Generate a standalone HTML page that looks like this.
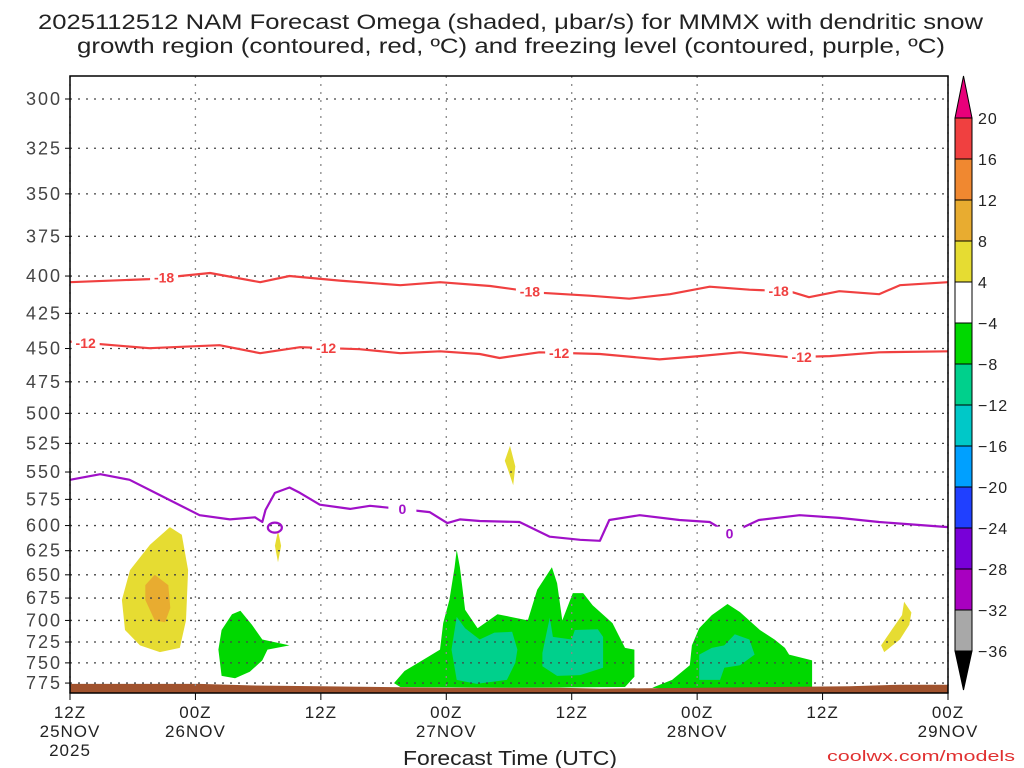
<!DOCTYPE html>
<html><head><meta charset="utf-8"><style>
body{margin:0;background:#fff;}
svg{display:block;font-family:"Liberation Sans",sans-serif;}
</style></head><body>
<svg id="chart" width="1024" height="768" xmlns="http://www.w3.org/2000/svg">
<text x="38" y="29" font-size="21" textLength="945" lengthAdjust="spacingAndGlyphs" fill="#222">2025112512 NAM Forecast Omega (shaded, μbar/s) for MMMX with dendritic snow</text>
<text x="77" y="53" font-size="21" textLength="868" lengthAdjust="spacingAndGlyphs" fill="#222">growth region (contoured, red, ºC) and freezing level (contoured, purple, ºC)</text>
<g id="plot"></g>
<text x="403" y="765" font-size="20" textLength="214" lengthAdjust="spacingAndGlyphs" fill="#222">Forecast Time (UTC)</text>
<text x="827" y="761" font-size="15" textLength="188" lengthAdjust="spacingAndGlyphs" fill="#e03030">coolwx.com/models</text>
<g id="cbar"></g>
</svg>
<script>
const yTicks=[300,325,350,375,400,425,450,475,500,525,550,575,600,625,650,675,700,725,750,775];
const xTickHours=[0,12,24,36,48,60,72,84];
const xTickTime=["12Z","00Z","12Z","00Z","12Z","00Z","12Z","00Z"];
const xTickDate=["25NOV","26NOV","","27NOV","","28NOV","","29NOV"];
const cbLabels=["20","16","12","8","4","-4","-8","-12","-16","-20","-24","-28","-32","-36"];
const cbColors=["#f04040","#f08830","#e8ac30","#e6dc32","#ffffff","#00d800","#00d08c","#00c8c8","#00a0ff","#2040ff","#7800d8","#a800c0","#a8a8a8"];
const line18H=[0,7.6,13.4,18.2,21.0,25.8,31.6,35.4,40.2,44.9,49.7,53.5,57.4,61.2,65.0,68.8,70.7,73.6,77.4,79.4,84];
const line18P=[404,402,398,404,400,403,406,404,406.5,411,413,415,412,407,409,410,414,410,412,406,404];
const line12H=[0,7.6,14.3,18.2,22.0,27.7,31.6,35.4,39.2,41.1,44.9,50.7,56.4,60.2,64.1,68.8,72.7,77.4,84];
const line12P=[445,449.8,447.6,453.4,449,450.5,453.4,452,454,457,452.8,454,458,455.6,452.8,456.4,455.6,452.8,452];
const line0H=[0,2.9,5.7,8.6,12.4,15.3,17.7,18.4,18.7,19.6,21.0,22.0,23.9,26.8,28.7,31.6,34.4,36.1,37.3,39.2,43.0,45.9,48.8,50.7,51.6,54.5,58.3,61.2,63.1,65.9,69.8,73.6,77.4,84];
const line0P=[557,552,557,571,590,594,592,596.5,585,569,564,569,580,584,581,584,587,597.6,594,595.6,596.5,611,614,615,594.6,590,594.6,596.5,608,594.6,590,592.6,596.5,601.5];
const greenA=[[15.5,693],[16.3,689],[17.4,705],[18.4,722],[21.0,729],[18.9,734],[18.4,747],[17.2,761],[15.8,769],[14.5,766],[14.2,734],[14.5,711]];
const greenC=[[31.0,775],[32.0,760],[34.1,744],[35.4,734],[35.7,703],[36.3,677],[36.8,642],[37.0,624],[37.3,642],[37.8,688],[39.0,709],[40.9,693],[43.8,700],[44.7,666],[46.1,642],[46.6,659],[47.1,700],[48.1,669.6],[49.1,669.6],[50.0,683],[51.9,703],[53.1,732],[54.0,734],[54.0,767],[53.1,780],[42.4,781],[31.6,780]];
const tealC1=[[37.0,696],[37.8,709],[39.2,722],[40.6,714],[42.3,713],[42.8,734],[42.6,750],[41.8,771],[38.9,776],[37.0,771],[36.5,734]];
const tealC2=[[45.9,697],[46.2,719],[48.0,722],[48.3,711],[50.5,710],[51.0,719],[51.0,756],[48.8,765],[46.6,766],[45.2,754],[45.2,738],[45.6,714]];
const greenD=[[55.7,781],[57.6,771],[59.3,753],[59.5,729],[60.2,709],[61.4,694],[62.9,681.6],[64.1,690.6],[66.0,711],[67.4,722],[68.4,732],[68.8,740],[71.0,747],[71.0,781],[60.2,787]];
const tealD=[[60.2,740],[61.4,732],[62.6,729],[63.6,716],[65.0,722],[65.5,740],[64.1,753],[62.6,756],[62.2,771],[60.2,771]];
const yellowB=[[7.65,619],[9.56,601.5],[10.7,609],[11.3,645],[11.1,700],[10.5,732],[8.6,737],[6.7,729],[5.26,711],[4.97,677],[5.74,645]];
const orangeB=[[8.1,650],[9.4,661],[9.6,686],[9.1,702],[8.1,700],[7.2,677],[7.2,661]];
const yellowS1=[[42.1,527],[42.6,545],[42.4,562],[41.9,548],[41.6,540]];
const yellowS2=[[19.9,605],[20.2,620],[19.9,637],[19.6,620]];
const yellowS3=[[79.8,679],[80.5,691],[80.3,705],[79.4,722],[77.9,737],[77.6,729],[78.6,711],[79.6,694]];
const terrainH=[0,12.4,17.2,23.9,36.3,46.8,50.7,60.2,74.6,79.4,84];
const terrainP=[776,776,778,779,781,781,782,781,779,777,777];

const NS="http://www.w3.org/2000/svg";
const X0=70,X1=948,Y0=76,Y1=693,PTOP=300,YTOP=99,K=615.4,PBOT=787;
const xs=h=>X0+(X1-X0)*h/84;
const ys=p=>YTOP+K*Math.log(p/PTOP);
function mk(tag,attrs,parent){const e=document.createElementNS(NS,tag);for(const k in attrs)e.setAttribute(k,attrs[k]);parent.appendChild(e);return e;}
const plot=document.getElementById('plot');
function poly(pts,fill,name){
  const e=mk('polygon',{points:pts.map(q=>xs(q[0]).toFixed(1)+','+ys(q[1]).toFixed(1)).join(' '),fill:fill},plot);
  
  
}
poly(yellowB,'#e6dc32','omega-positive-region-1');
poly(orangeB,'#e8ac30','omega-strong-positive-region-1');
poly(yellowS1,'#e6dc32','omega-positive-region-2');
poly(yellowS2,'#e6dc32','omega-positive-region-3');
poly(yellowS3,'#e6dc32','omega-positive-region-4');
poly(greenA,'#00d800','omega-negative-region-1');
poly(greenC,'#00d800','omega-negative-region-2');
poly(tealC1,'#00d08c','omega-strong-negative-region-1');
poly(tealC2,'#00d08c','omega-strong-negative-region-2');
poly(greenD,'#00d800','omega-negative-region-3');
poly(tealD,'#00d08c','omega-strong-negative-region-3');
{const pts=terrainH.map((h,i)=>[h,terrainP[i]]);pts.push([84,PBOT],[0,PBOT]);poly(pts,'#a0522d','terrain');}
yTicks.forEach(p=>{
  const g=mk('line',{x1:X0,x2:X1,y1:ys(p),y2:ys(p),stroke:'#444','stroke-width':1.3,'stroke-dasharray':'2 6'},plot);
  
  
  const t=mk('text',{x:62,y:ys(p)+6,'font-size':18,'text-anchor':'end','letter-spacing':2,fill:'#444'},plot);
  t.textContent=p;
  
  
  const tk=mk('line',{x1:X0-5,x2:X0,y1:ys(p),y2:ys(p),stroke:'#000'},plot);
  
  
});
xTickHours.forEach((h,i)=>{
  const g=mk('line',{x1:xs(h),x2:xs(h),y1:Y0,y2:Y1,stroke:'#888','stroke-width':1.3,'stroke-dasharray':'2 6'},plot);
  
  
  const tk=mk('line',{x1:xs(h),x2:xs(h),y1:Y1,y2:Y1+7,stroke:'#000'},plot);
  
  
  const t=mk('text',{x:xs(h),y:718,'font-size':17,'text-anchor':'middle','letter-spacing':1,fill:'#222'},plot);
  t.textContent=xTickTime[i];
  
  
  if(xTickDate[i]){const d=mk('text',{x:xs(h),y:737,'font-size':17,'text-anchor':'middle','letter-spacing':1,fill:'#222'},plot);
  d.textContent=xTickDate[i];
  
  }
});
{const t=mk('text',{x:X0,y:756,'font-size':17,'text-anchor':'middle','letter-spacing':1,fill:'#222'},plot);t.textContent='2025';

}
function cline(H,P,color,name){
  const e=mk('polyline',{points:H.map((h,i)=>xs(h).toFixed(1)+','+ys(P[i]).toFixed(1)).join(' '),fill:'none',stroke:color,'stroke-width':2.2,'stroke-linejoin':'round'},plot);
  
  
}
cline(line18H,line18P,'#f04040','contour-minus-18');
cline(line12H,line12P,'#f04040','contour-minus-12');
cline(line0H,line0P,'#a010c8','freezing-level-contour');
{const e=mk('ellipse',{cx:xs(19.6),cy:ys(602),rx:7,ry:5,fill:'none',stroke:'#a010c8','stroke-width':2.2},plot);

}
function interp(H,P,h){for(let i=1;i<H.length;i++){if(h<=H[i]){const f=(h-H[i-1])/(H[i]-H[i-1]);return P[i-1]+f*(P[i]-P[i-1]);}}return P[P.length-1];}
function lbl(H,P,h,txt,color){
  const x=xs(h),y=ys(interp(H,P,h));
  const r=mk('rect',{x:x-14,y:y-7,width:28,height:14,fill:'#fff'},plot);
  
  
  const t=mk('text',{x:x,y:y+5,'font-size':14,'font-weight':'bold','text-anchor':'middle',fill:color},plot);
  t.textContent=txt;
  
  
}
lbl(line18H,line18P,9.0,'-18','#f04040');lbl(line18H,line18P,44.0,'-18','#f04040');lbl(line18H,line18P,67.8,'-18','#f04040');
lbl(line12H,line12P,1.5,'-12','#f04040');lbl(line12H,line12P,24.5,'-12','#f04040');lbl(line12H,line12P,46.8,'-12','#f04040');lbl(line12H,line12P,70.0,'-12','#f04040');
lbl(line0H,line0P,31.8,'0','#a010c8');lbl(line0H,line0P,63.1,'0','#a010c8');
{const f=mk('rect',{x:X0,y:Y0,width:X1-X0,height:Y1-Y0,fill:'none',stroke:'#000','stroke-width':1.5},plot);

}
const cb=document.getElementById('cbar');
const CX0=955,CX1=972,CT=118,STEP=41;
{const a=mk('polygon',{points:`${CX0},${CT} ${CX1},${CT} ${(CX0+CX1)/2},76`,fill:'#e8007a',stroke:'#000'},cb);

}
cbColors.forEach((c,i)=>{const r=mk('rect',{x:CX0,y:CT+i*STEP,width:CX1-CX0,height:STEP,fill:c,stroke:'#000'},cb);

});
{const yb=CT+cbColors.length*STEP;const a=mk('polygon',{points:`${CX0},${yb} ${CX1},${yb} ${(CX0+CX1)/2},690`,fill:'#000',stroke:'#000'},cb);

}
cbLabels.forEach((l,i)=>{const t=mk('text',{x:978,y:CT+i*STEP+6,'font-size':16,'letter-spacing':1,fill:'#222'},cb);t.textContent=l.replace('-','−');

});
</script>
</body></html>
